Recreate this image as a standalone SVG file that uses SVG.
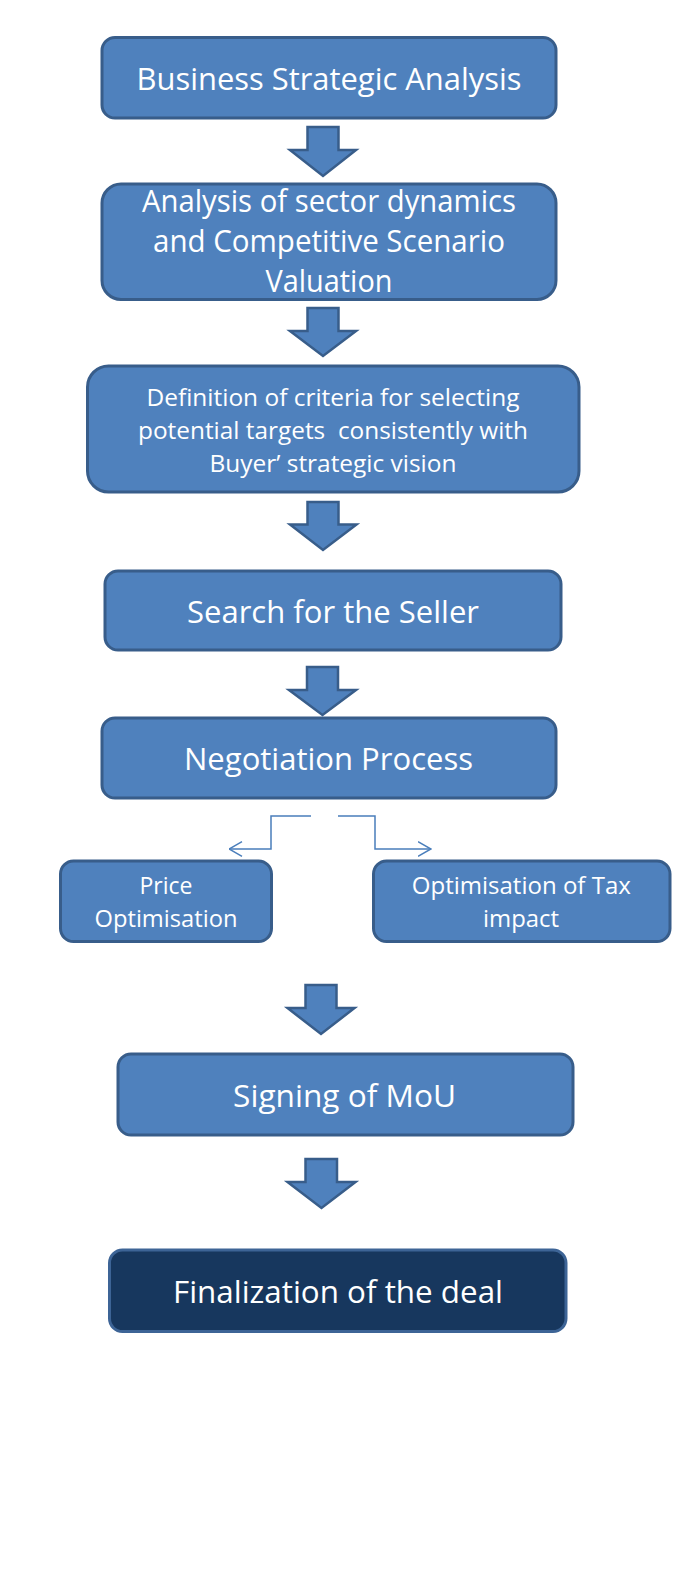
<svg xmlns="http://www.w3.org/2000/svg" width="693" height="1581" viewBox="0 0 693 1581">
<style>
.box{fill:#4f81bd;stroke:#385d8a;stroke-width:3}
.dark{fill:#17375e;stroke:#3d6496;stroke-width:3}
.arr{fill:#4f81bd;stroke:#385d8a;stroke-width:2.5;stroke-linejoin:miter}
.t{fill:#ffffff;font-family:"Open Sans","Noto Sans","Liberation Sans",sans-serif;text-anchor:middle}
.L{font-size:31px}
.S{font-size:24px}
.con{fill:none;stroke:#4a7ebb;stroke-width:1.5}
</style>
<defs>
<marker id="chev" viewBox="0 0 14 16" refX="13.5" refY="8" markerWidth="14" markerHeight="16" markerUnits="userSpaceOnUse" orient="auto">
<path d="M0.5,0.7 L13.5,8 L0.5,15.3" fill="none" stroke="#4a7ebb" stroke-width="1.5"/>
</marker>
</defs>
<rect width="693" height="1581" fill="#ffffff"/>

<g id="n1">
<rect class="box" x="102" y="37.5" width="454" height="80.5" rx="13"/>
<text class="t L" x="329" y="90" textLength="385" lengthAdjust="spacingAndGlyphs">Business Strategic Analysis</text>
</g>
<g id="n2">
<rect class="box" x="102" y="184" width="454" height="115.5" rx="19"/>
<text class="t L" x="329" y="211.5" textLength="374" lengthAdjust="spacingAndGlyphs">Analysis of sector dynamics</text>
<text class="t L" x="329" y="252" textLength="352" lengthAdjust="spacingAndGlyphs">and Competitive Scenario</text>
<text class="t L" x="329" y="292" textLength="127" lengthAdjust="spacingAndGlyphs">Valuation</text>
</g>
<g id="n3">
<rect class="box" x="87.5" y="366" width="491.5" height="126" rx="21"/>
<text class="t S" x="333" y="406" textLength="373" lengthAdjust="spacingAndGlyphs">Definition of criteria for selecting</text>
<text class="t S" x="333" y="439" textLength="390" lengthAdjust="spacingAndGlyphs" xml:space="preserve">potential targets  consistently with</text>
<text class="t S" x="333" y="472" textLength="247" lengthAdjust="spacingAndGlyphs">Buyer’ strategic vision</text>
</g>
<g id="n4">
<rect class="box" x="105" y="571" width="456" height="79" rx="13"/>
<text class="t L" x="333" y="623" textLength="292" lengthAdjust="spacingAndGlyphs">Search for the Seller</text>
</g>
<g id="n5">
<rect class="box" x="102" y="718" width="454" height="80" rx="13"/>
<text class="t L" x="328.5" y="770" textLength="289" lengthAdjust="spacingAndGlyphs">Negotiation Process</text>
</g>
<g id="n6">
<rect class="box" x="60.5" y="861" width="211" height="80.5" rx="13"/>
<text class="t S" x="166" y="894" textLength="53" lengthAdjust="spacingAndGlyphs">Price</text>
<text class="t S" x="166" y="927" textLength="143" lengthAdjust="spacingAndGlyphs">Optimisation</text>
</g>
<g id="n7">
<rect class="box" x="373.5" y="861" width="296.5" height="80.5" rx="13"/>
<text class="t S" x="521.3" y="894" textLength="219" lengthAdjust="spacingAndGlyphs">Optimisation of Tax</text>
<text class="t S" x="521" y="927" textLength="76" lengthAdjust="spacingAndGlyphs">impact</text>
</g>
<g id="n8">
<rect class="box" x="118" y="1054" width="455" height="81" rx="13"/>
<text class="t L" x="344.6" y="1107" textLength="223" lengthAdjust="spacingAndGlyphs">Signing of MoU</text>
</g>
<g id="n9">
<rect class="dark" x="109.5" y="1250" width="456.5" height="81.5" rx="13"/>
<text class="t L" x="338" y="1303" textLength="330" lengthAdjust="spacingAndGlyphs">Finalization of the deal</text>
</g>

<g id="connectors">
<polygon class="arr" points="307.5,127 338.5,127 338.5,150 356,150 323,176 290,150 307.5,150"/>
<polygon class="arr" points="307.5,308 338.5,308 338.5,331 356,331 323,356 290,331 307.5,331"/>
<polygon class="arr" points="307.5,502 338.5,502 338.5,524.5 356.5,524.5 323,550 290,524.5 307.5,524.5"/>
<polygon class="arr" points="307,667 338,667 338,690 356,690 322.5,715 289,690 307,690"/>
<polygon class="arr" points="305.5,985 336.5,985 336.5,1008 354.5,1008 321,1034 287.5,1008 305.5,1008"/>
<polygon class="arr" points="305.5,1159 337,1159 337,1182 355.5,1182 321.5,1208 287.5,1182 305.5,1182"/>
<polyline class="con" points="311,816 271,816 271,849 229,849" marker-end="url(#chev)"/>
<polyline class="con" points="338,816 375,816 375,849 431,849" marker-end="url(#chev)"/>
</g>
</svg>
